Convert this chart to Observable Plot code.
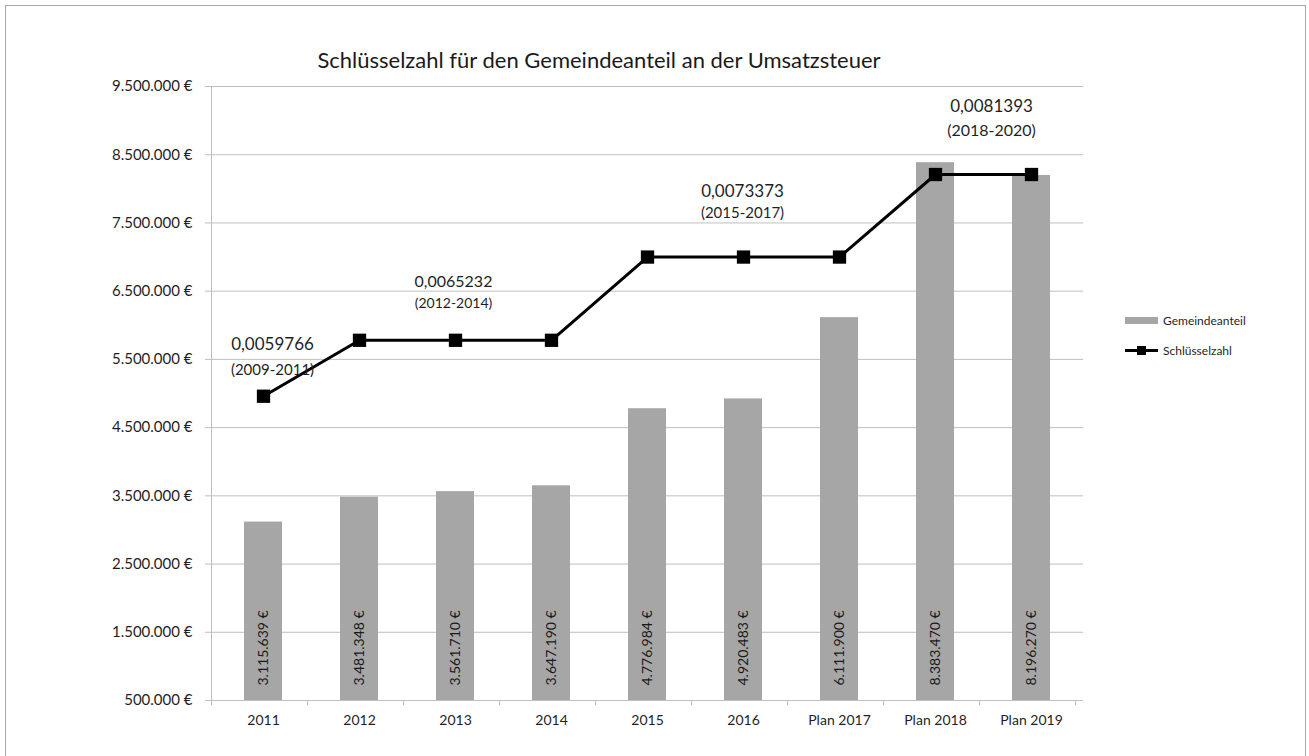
<!DOCTYPE html>
<html><head><meta charset="utf-8">
<script src="https://cdn.jsdelivr.net/npm/d3@7"></script>
<script src="https://cdn.jsdelivr.net/npm/@observablehq/plot@0.6"></script>
<style>
body{margin:0;background:#fff;font-family:Lato,sans-serif;color:#1f1f1f;}
#wrap{position:relative;width:1309px;height:756px;overflow:hidden;}
#border{position:absolute;left:5px;top:5px;width:1301px;height:770px;border:1px solid #a6a6a6;box-sizing:border-box;pointer-events:none;}
#title{position:absolute;left:0;width:1198px;top:46px;text-align:center;font-size:22px;color:#1a1a1a;}
#chart{position:absolute;left:0;top:0;}
.leg{position:absolute;left:1125px;font-size:12px;color:#1f1f1f;display:flex;align-items:center;}
.leg .sw{width:33px;height:7px;background:#a6a6a6;margin-right:5px;}
.leg .ln{position:relative;width:33px;height:3px;background:#000;margin-right:5px;}
.leg .ln i{position:absolute;left:12px;top:-3px;width:9px;height:9px;background:#000;}
</style></head><body>
<div id="wrap">
  <div id="chart"></div>
  <div id="title">Schlüsselzahl für den Gemeindeanteil an der Umsatzsteuer</div>
  <div class="leg" style="top:313px"><span class="sw"></span>Gemeindeanteil</div>
  <div class="leg" style="top:343px"><span class="ln"><i></i></span>Schlüsselzahl</div>
  <div id="border"></div>
</div>
<script>
// ---- data ----
const categories = ["2011","2012","2013","2014","2015","2016","Plan 2017","Plan 2018","Plan 2019"];
const gemeindeanteil = [3115639,3481348,3561710,3647190,4776984,4920483,6111900,8383470,8196270];
const gemeindeanteilLabels = ["3.115.639 €","3.481.348 €","3.561.710 €","3.647.190 €","4.776.984 €","4.920.483 €","6.111.900 €","8.383.470 €","8.196.270 €"];
// Schlüsselzahl line as drawn on the € axis
const schluesselzahlPlotted = [4960000,5780000,5780000,5780000,7000000,7000000,7000000,8210000,8210000];
const periodCats = ["2011","2013","2016","Plan 2018"];
const periodKeys = ["0,0059766","0,0065232","0,0073373","0,0081393"];
const periodLabels = ["(2009-2011)","(2012-2014)","(2015-2017)","(2018-2020)"];
const yTicks = [500000,1500000,2500000,3500000,4500000,5500000,6500000,7500000,8500000,9500000];

// ---- styling ----
const barColor = "#a6a6a6", gridColor = "#bfbfbf", textColor = "#1f1f1f";
const fmt = v => d3.format(",")(v).replace(/,/g, ".") + " €";
// dx, dy of key line, dy of period line, font size key, font size period
const annoStyle = [[9,-52,-26,17,15],[-2,-58,-37,16,14],[-1,-66,-44,17,15],[56,-68,-44,17,16]];

const bars = categories.map((c,i)=>({cat:c, value:gemeindeanteil[i], label:gemeindeanteilLabels[i]}));
const line = categories.map((c,i)=>({cat:c, value:schluesselzahlPlotted[i]}));
const lineAt = c => schluesselzahlPlotted[categories.indexOf(c)];

function axisLines(index, scales, values, dims) {
  const x = scales.x;
  const left = dims.marginLeft;
  const top = dims.marginTop, bottom = dims.height - dims.marginBottom;
  const step = x(categories[1]) - x(categories[0]);
  const g = d3.create("svg:g").attr("stroke", gridColor).attr("stroke-width", 1);
  g.append("line").attr("x1", left+0.5).attr("x2", left+0.5).attr("y1", top).attr("y2", bottom);
  for (let i = 0; i <= categories.length; i++) {
    const px = Math.round(left + i*step) + 0.5;
    g.append("line").attr("x1", px).attr("x2", px).attr("y1", bottom).attr("y2", bottom+5);
  }
  return g.node();
}

const annoMarks = [];
periodCats.forEach((c,i)=>{
  const [dx, dyK, dyP, sK, sP] = annoStyle[i];
  annoMarks.push(Plot.text([c], {x: d=>d, y: d=>lineAt(d), text: ()=>periodKeys[i], dx, dy: dyK, fontSize: sK, fill: textColor}));
  annoMarks.push(Plot.text([c], {x: d=>d, y: d=>lineAt(d), text: ()=>periodLabels[i], dx, dy: dyP, fontSize: sP, fill: textColor}));
});

const chart = Plot.plot({
  width: 1309, height: 756,
  marginLeft: 211, marginRight: 226, marginTop: 86, marginBottom: 56,
  style: {fontFamily: "Lato, sans-serif", color: textColor, background: "transparent"},
  x: {domain: categories, paddingInner: 0.6, paddingOuter: 0.3, label: null},
  y: {domain: [500000, 9500000], label: null},
  marks: [
    Plot.ruleY(yTicks, {stroke: gridColor, strokeWidth: 1}),
    Plot.barY(bars, {x: "cat", y1: 500000, y2: "value", fill: barColor}),
    Plot.text(bars, {x: "cat", y: () => 500000, text: "label", rotate: -90, textAnchor: "start", dy: -15, fontSize: 14, fill: "#1a1a1a"}),
    Plot.line(line, {x: "cat", y: "value", stroke: "#000", strokeWidth: 3}),
    Plot.dot(line, {x: "cat", y: "value", symbol: "square", r: 7.5, fill: "#000", stroke: "none"}),
    ...annoMarks,
    axisLines,
    Plot.axisY({ticks: yTicks, tickFormat: fmt, tickSize: 6, tickPadding: 13, fontSize: 15, stroke: gridColor, fill: textColor}),
    Plot.axisX({tickSize: 0, tickPadding: 15, fontSize: 14, fill: textColor})
  ]
});
document.getElementById("chart").appendChild(chart);
</script>
</body></html>
